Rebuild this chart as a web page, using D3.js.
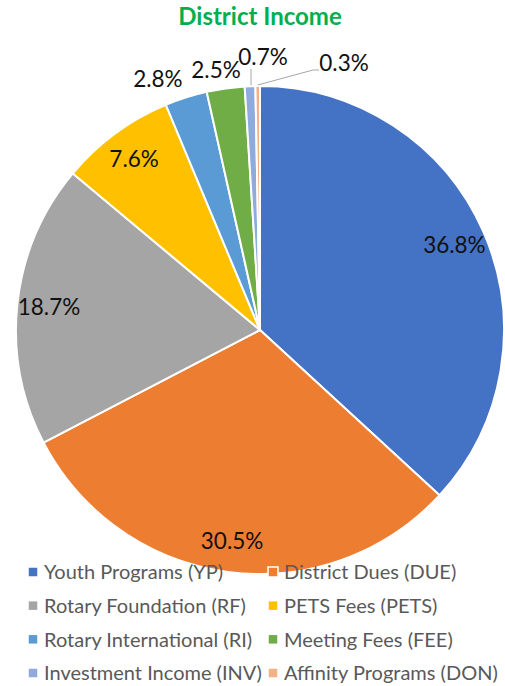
<!DOCTYPE html>
<html>
<head>
<meta charset="utf-8">
<script src="https://cdn.jsdelivr.net/npm/d3@7"></script>
<style>
  body { margin: 0; background: #fff; }
  text { font-family: Lato, "Open Sans", sans-serif; }
</style>
</head>
<body>
<div id="chart"></div>
<script>
// Data
const categories = [
  "Youth Programs (YP)", "District Dues (DUE)", "Rotary Foundation (RF)", "PETS Fees (PETS)",
  "Rotary International (RI)", "Meeting Fees (FEE)", "Investment Income (INV)", "Affinity Programs (DON)"
];
const shares = [36.8, 30.5, 18.7, 7.6, 2.8, 2.5, 0.7, 0.3];
const colors = ["#4472C4", "#ED7D31", "#A5A5A5", "#FFC000", "#5B9BD5", "#70AD47", "#8FAADC", "#F4B183"];

const width = 505;
const height = 686;
const cx = 260, cy = 330, radius = 244;

const svg = d3.select("#chart")
  .append("svg")
  .attr("width", width)
  .attr("height", height);

// Title
svg.append("text")
  .attr("x", 260)
  .attr("y", 25)
  .attr("text-anchor", "middle")
  .attr("font-size", 24)
  .attr("font-weight", "bold")
  .attr("fill", "#00B050")
  .text("District Income");

const data = categories.map((c, i) => ({ name: c, value: shares[i], color: colors[i] }));

const pie = d3.pie().value(d => d.value).sort(null);
const arcs = pie(data);
const arc = d3.arc().innerRadius(0).outerRadius(radius);

const g = svg.append("g").attr("transform", `translate(${cx},${cy})`);

g.selectAll("path")
  .data(arcs)
  .join("path")
  .attr("d", arc)
  .attr("fill", d => d.data.color)
  .attr("stroke", "#fff")
  .attr("stroke-width", 2);

// Label placement: big slices inside near the rim, small ones outside
const inside = d3.arc().innerRadius(radius * 0.87).outerRadius(radius * 0.87);
const rim = d3.arc().innerRadius(radius).outerRadius(radius);

// point at radius r along angle a (radians, clockwise from 12 o'clock)
const polar = (a, r) => [Math.sin(a) * r, -Math.cos(a) * r];
const deg = Math.PI / 180;

function labelPos(d, i) {
  const mid = (d.startAngle + d.endAngle) / 2;
  if (d.data.value >= 5) return inside.centroid(d);
  if (i === 4) return polar(mid - 4.5 * deg, radius * 1.11);
  if (i === 5) return polar(mid - 1.5 * deg, radius * 1.08);
  // tiny slices: pushed sideways so they do not collide
  if (i === 6) return [rim.centroid(d)[0] + 13, -273];
  return [84, -267];
}

const labels = arcs.map((d, i) => ({ d, i, pos: labelPos(d, i) }));

// Leader lines for the tiny slices
labels.filter(l => l.d.data.value < 1).forEach(l => {
  const p = rim.centroid(l.d);
  let pts;
  if (l.i === 6) pts = [[p[0] + 1, p[1] - 1], [p[0] + 1, l.pos[1] + 12]];
  else pts = [[p[0], p[1] - 1], [l.pos[0] - 31, l.pos[1] + 7], [l.pos[0] - 25, l.pos[1] + 7]];
  g.append("path")
    .attr("d", d3.line()(pts))
    .attr("fill", "none")
    .attr("stroke", "#A6A6A6")
    .attr("stroke-width", 1);
});

g.selectAll("text.pct")
  .data(labels)
  .join("text")
  .attr("class", "pct")
  .attr("x", l => l.pos[0])
  .attr("y", l => l.pos[1])
  .attr("dy", "0.36em")
  .attr("text-anchor", "middle")
  .attr("font-size", 22.5)
  .attr("fill", "#111")
  .text(l => l.d.data.value.toFixed(1) + "%");

// Legend
const rows = d3.scalePoint().domain([0, 1, 2, 3]).range([572, 673]);
const cols = d3.scalePoint().domain([0, 1]).range([28, 268]);

const legend = svg.append("g")
  .selectAll("g")
  .data(data)
  .join("g")
  .attr("transform", (d, i) => `translate(${cols(i % 2)},${rows(Math.floor(i / 2))})`);

legend.append("rect")
  .attr("x", 0)
  .attr("y", -5)
  .attr("width", 10)
  .attr("height", 10)
  .attr("fill", d => d.color)
  .attr("stroke", "#fff")
  .attr("stroke-width", 1.5);

legend.append("text")
  .attr("x", 16)
  .attr("y", 0)
  .attr("dy", "0.36em")
  .attr("font-size", 20)
  .attr("fill", "#595959")
  .text(d => d.name);
</script>
</body>
</html>
